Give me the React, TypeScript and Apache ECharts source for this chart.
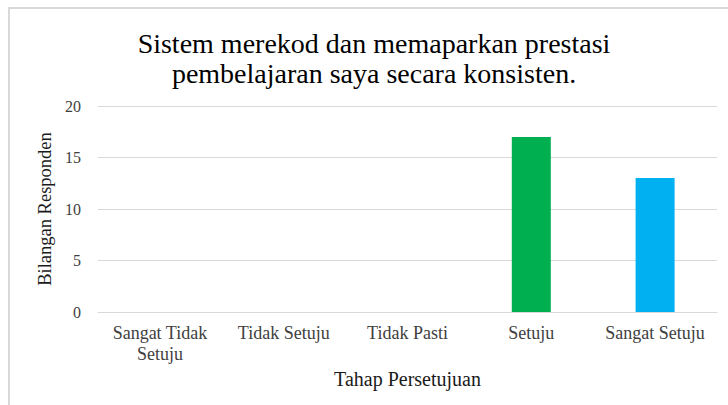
import React, { useEffect, useRef } from "react";
import * as echarts from "echarts";

const titleLines = ["Sistem merekod dan memaparkan prestasi", "pembelajaran saya secara konsisten."];
const categories = ["Sangat Tidak\nSetuju", "Tidak Setuju", "Tidak Pasti", "Setuju", "Sangat Setuju"];
const values = [0, 0, 0, 17, 13];
const barColors = ["#00B050", "#00B050", "#00B050", "#00B050", "#00B0F0"];
const yTicks = { min: 0, max: 20, interval: 5 };
const xName = "Tahap Persetujuan";
const yName = "Bilangan Responden";

const FONT = "Liberation Serif";
const titleFonts = ["Times New Roman", "serif"];

export default function App() {
  const ref = useRef<HTMLDivElement>(null);
  useEffect(() => {
    if (!ref.current) return;
    const chart = echarts.init(ref.current, null, { renderer: "svg" });
    chart.setOption({
      animation: false,
      backgroundColor: "#ffffff",
      textStyle: { fontFamily: FONT },
      graphic: [
        {
          type: "rect",
          shape: { x: 9, y: 8, width: 760, height: 440 },
          style: { fill: "none", stroke: "#d9d9d9", lineWidth: 2 },
          silent: true,
        },
        ...titleLines.map((line, i) => ({
          type: "text",
          x: 374,
          y: 43 + i * 30,
          silent: true,
          style: {
            text: line,
            fontFamily: titleFonts[i],
            fontSize: 28,
            fill: "#000000",
            textAlign: "center",
            textVerticalAlign: "middle",
            verticalAlign: "middle",
          },
        })),
      ],
      grid: { left: 98, right: 11, top: 106, bottom: 93 },
      xAxis: {
        type: "category",
        data: categories,
        name: xName,
        nameLocation: "middle",
        nameGap: 55,
        nameTextStyle: { fontFamily: FONT, fontSize: 20, color: "#1a1a1a" },
        axisLine: { show: true, lineStyle: { color: "#d9d9d9", width: 1 } },
        axisTick: { show: false },
        axisLabel: {
          interval: 0,
          margin: 10,
          fontFamily: FONT,
          fontSize: 18,
          color: "#404040",
          lineHeight: 21,
        },
      },
      yAxis: {
        type: "value",
        min: yTicks.min,
        max: yTicks.max,
        interval: yTicks.interval,
        name: yName,
        nameLocation: "middle",
        nameGap: 43,
        nameTextStyle: { fontFamily: FONT, fontSize: 18.5, color: "#1a1a1a" },
        axisLine: { show: false },
        axisTick: { show: false },
        axisLabel: { margin: 17, fontFamily: FONT, fontSize: 16, color: "#404040" },
        splitLine: { lineStyle: { color: "#d9d9d9", width: 1 } },
      },
      series: [
        {
          type: "bar",
          barWidth: 39,
          data: values.map((v, i) => ({ value: v, itemStyle: { color: barColors[i] } })),
        },
      ],
    });
    return () => chart.dispose();
  }, []);
  return (
    <div
      ref={ref}
      style={{ position: "fixed", left: 0, top: 0, width: 728, height: 405 }}
    />
  );
}
